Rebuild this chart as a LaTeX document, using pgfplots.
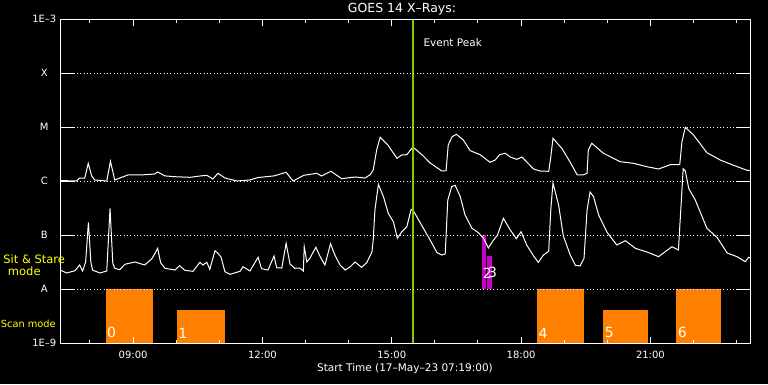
\documentclass[border=0pt]{standalone}
\usepackage{pgfplots}
\pgfplotsset{compat=1.18}
\usepackage{fontspec}
\setmainfont{DejaVu Sans}
\definecolor{scanorange}{RGB}{255,128,0}
\definecolor{sitmag}{RGB}{200,0,200}
\definecolor{peakgreen}{RGB}{140,200,0}
\definecolor{ylw}{RGB}{255,255,0}
\begin{document}
\begin{tikzpicture}[font=\fontsize{10.5}{12}\selectfont]
\fill[black] (-60.5pt,-40.7pt) rectangle (707.5pt,343.3pt);
\begin{axis}[
  at={(0pt,0pt)}, anchor=south west,
  scale only axis, width=689.8pt, height=324pt,
  xmin=7.3167, xmax=23.3167, ymin=-9, ymax=-3,
  axis on top,
  axis line style={white, line width=1pt},
  xtick={9,12,15,18,21}, xticklabels={09:00,12:00,15:00,18:00,21:00},
  minor xtick={8,10,11,13,14,16,17,19,20,22,23},
  tick align=inside, major tick length=6.7pt, minor tick length=3.3pt,
  xtick style={white, line width=1pt},
  minor tick style={white, line width=1pt},
  ytick={-9,-8,-7,-6,-5,-4,-3}, yticklabels={1E--9,A,B,C,M,X,1E--3},
  ytick style={draw=none},
  ymajorgrids, major grid style={white, line width=1pt, dash pattern=on 1pt off 2.33pt},
  /pgf/number format/assume math mode=true,
  ticklabel style={text=white, font=\fontsize{10}{12}\selectfont},
  yticklabel style={anchor=center, xshift=-16.2pt},
  xticklabel style={anchor=center, yshift=-11.7pt},
]
% Scan mode bars
\addplot[fill=scanorange, draw=none] coordinates {(8.366,-9) (8.366,-8) (9.457,-8) (9.457,-9)};
\addplot[fill=scanorange, draw=none] coordinates {(10.015,-9) (10.015,-8.383) (11.129,-8.383) (11.129,-9)};
\addplot[fill=scanorange, draw=none] coordinates {(18.373,-9) (18.373,-8) (19.457,-8) (19.457,-9)};
\addplot[fill=scanorange, draw=none] coordinates {(19.907,-9) (19.907,-8.383) (20.952,-8.383) (20.952,-9)};
\addplot[fill=scanorange, draw=none] coordinates {(21.60,-9) (21.60,-8) (22.64,-8) (22.64,-9)};
% Sit & Stare bars
\addplot[fill=sitmag, draw=none] coordinates {(17.10,-8) (17.10,-7) (17.196,-7) (17.196,-8)};
\addplot[fill=sitmag, draw=none] coordinates {(17.21,-8) (17.21,-7.383) (17.32,-7.383) (17.32,-8)};
% long channel
\addplot[white, line width=1pt] table {
7.32 -5.985
7.50 -5.990
7.69 -5.994
7.76 -5.940
7.88 -5.940
7.96 -5.667
8.04 -5.900
8.11 -5.976
8.39 -5.994
8.475 -5.630
8.575 -5.976
8.69 -5.940
8.88 -5.883
9.16 -5.883
9.50 -5.865
9.57 -5.828
9.74 -5.900
9.97 -5.915
10.32 -5.926
10.55 -5.902
10.71 -5.889
10.85 -5.957
10.97 -5.852
11.13 -5.939
11.41 -5.994
11.71 -5.976
11.90 -5.930
12.27 -5.900
12.55 -5.833
12.71 -5.994
12.96 -5.889
13.26 -5.852
13.37 -5.902
13.59 -5.815
13.84 -5.952
14.15 -5.920
14.38 -5.939
14.50 -5.878
14.57 -5.791
14.65 -5.420
14.73 -5.185
14.91 -5.328
15.12 -5.574
15.23 -5.513
15.35 -5.507
15.49 -5.365
15.73 -5.530
15.89 -5.661
16.16 -5.809
16.26 -5.804
16.31 -5.328
16.40 -5.174
16.50 -5.130
16.66 -5.235
16.82 -5.433
17.05 -5.507
17.28 -5.648
17.40 -5.606
17.50 -5.507
17.63 -5.481
17.75 -5.550
17.90 -5.593
18.02 -5.550
18.29 -5.772
18.44 -5.809
18.64 -5.815
18.68 -5.606
18.74 -5.204
18.95 -5.396
19.14 -5.648
19.30 -5.880
19.45 -5.880
19.53 -5.850
19.56 -5.420
19.64 -5.296
19.91 -5.481
20.30 -5.637
20.61 -5.667
20.92 -5.730
21.19 -5.772
21.46 -5.693
21.68 -5.693
21.73 -5.272
21.81 -5.000
22.00 -5.143
22.31 -5.470
22.62 -5.606
22.93 -5.704
23.24 -5.796
23.32 -5.796
};
% short channel
\addplot[white, line width=1pt] table {
7.31 -7.643
7.46 -7.698
7.65 -7.656
7.76 -7.550
7.83 -7.661
7.90 -7.494
7.964 -6.759
8.02 -7.494
8.06 -7.643
8.23 -7.698
8.39 -7.661
8.466 -6.500
8.53 -7.522
8.575 -7.611
8.69 -7.637
8.81 -7.537
9.04 -7.494
9.27 -7.550
9.43 -7.439
9.51 -7.333
9.57 -7.241
9.64 -7.507
9.74 -7.611
9.97 -7.643
10.08 -7.563
10.20 -7.648
10.39 -7.667
10.55 -7.500
10.62 -7.550
10.71 -7.500
10.78 -7.630
10.90 -7.285
10.97 -7.333
11.04 -7.402
11.13 -7.674
11.25 -7.722
11.48 -7.667
11.55 -7.581
11.71 -7.661
11.90 -7.407
11.98 -7.619
12.13 -7.643
12.27 -7.383
12.33 -7.600
12.45 -7.606
12.55 -7.148
12.64 -7.531
12.75 -7.611
12.87 -7.606
12.95 -7.661
12.97 -7.211
13.03 -7.494
13.10 -7.426
13.24 -7.222
13.34 -7.396
13.45 -7.550
13.58 -7.156
13.68 -7.365
13.80 -7.550
13.92 -7.643
14.03 -7.587
14.15 -7.494
14.30 -7.593
14.42 -7.507
14.54 -7.309
14.57 -7.087
14.61 -6.531
14.69 -6.056
14.81 -6.291
14.92 -6.593
15.04 -6.754
15.13 -7.056
15.23 -6.939
15.35 -6.841
15.45 -6.519
15.49 -6.531
15.66 -6.767
15.89 -7.087
16.05 -7.322
16.16 -7.365
16.24 -7.346
16.30 -6.346
16.39 -6.100
16.47 -6.074
16.59 -6.285
16.70 -6.624
16.86 -6.870
17.01 -6.952
17.13 -7.056
17.24 -7.235
17.36 -7.087
17.45 -7.000
17.59 -6.685
17.75 -6.902
17.89 -7.063
18.00 -6.933
18.13 -7.180
18.29 -7.383
18.40 -7.500
18.52 -7.365
18.64 -7.296
18.69 -6.513
18.74 -6.031
18.87 -6.439
18.98 -7.013
19.14 -7.365
19.26 -7.556
19.37 -7.569
19.46 -7.426
19.53 -6.531
19.60 -6.198
19.68 -6.285
19.80 -6.624
19.99 -6.939
20.22 -7.180
20.42 -7.100
20.65 -7.241
20.92 -7.309
21.19 -7.396
21.50 -7.211
21.65 -7.272
21.69 -6.717
21.76 -5.767
21.81 -5.809
21.89 -6.137
22.04 -6.346
22.31 -6.870
22.55 -7.044
22.78 -7.328
23.01 -7.396
23.20 -7.489
23.28 -7.407
23.32 -7.420
};
% event peak
\addplot[peakgreen, line width=2pt] coordinates {(15.487,-9) (15.487,-3)};
% long y ticks on both sides
\pgfplotsinvokeforeach{-8,-7,-6,-5,-4}{
  \draw[white, line width=1pt] (axis cs:7.3167,#1) -- ++(14pt,0pt);
  \draw[white, line width=1pt] (axis cs:23.3167,#1) -- ++(-14pt,0pt);
}
% bar numbers
\begin{scope}[every node/.style={text=white, anchor=south west, inner sep=0pt, font=\fontsize{14}{14}\selectfont}]
\node at ([xshift=1.3pt,yshift=5pt]axis cs:8.366,-9) {0};
\node at ([xshift=1.3pt,yshift=5pt]axis cs:10.015,-9) {1};
\node at ([xshift=1.3pt,yshift=5pt]axis cs:18.373,-9) {4};
\node at ([xshift=1.3pt,yshift=5pt]axis cs:19.907,-9) {5};
\node at ([xshift=1.3pt,yshift=5pt]axis cs:21.60,-9) {6};
\node at ([xshift=0.5pt,yshift=11pt]axis cs:17.10,-8) {2};
\node at ([xshift=1pt,yshift=11pt]axis cs:17.21,-8) {3};
\end{scope}
\end{axis}
\node[text=white, anchor=center, font=\fontsize{12.5}{14}\selectfont] at (341.5pt,334.3pt) {GOES 14 X--Rays:};
\node[text=white, anchor=center] at (344.5pt,-25pt) {Start Time (17--May--23 07:19:00)};
\node[text=white, anchor=west, inner sep=0pt] at (362.8pt,300.3pt) {Event Peak};
\node[text=ylw, anchor=center, font=\fontsize{11.5}{13}\selectfont] at (-26.3pt,84.3pt) {Sit \& Stare};
\node[text=ylw, anchor=center, font=\fontsize{11.5}{13}\selectfont] at (-36.2pt,72.3pt) {mode};
\node[text=ylw, anchor=center, font=\fontsize{9.8}{12}\selectfont] at (-32.2pt,19.3pt) {Scan mode};
\pgfresetboundingbox
\path (-60.5pt,-40.7pt) rectangle (707.5pt,343.3pt);
\end{tikzpicture}
\end{document}
